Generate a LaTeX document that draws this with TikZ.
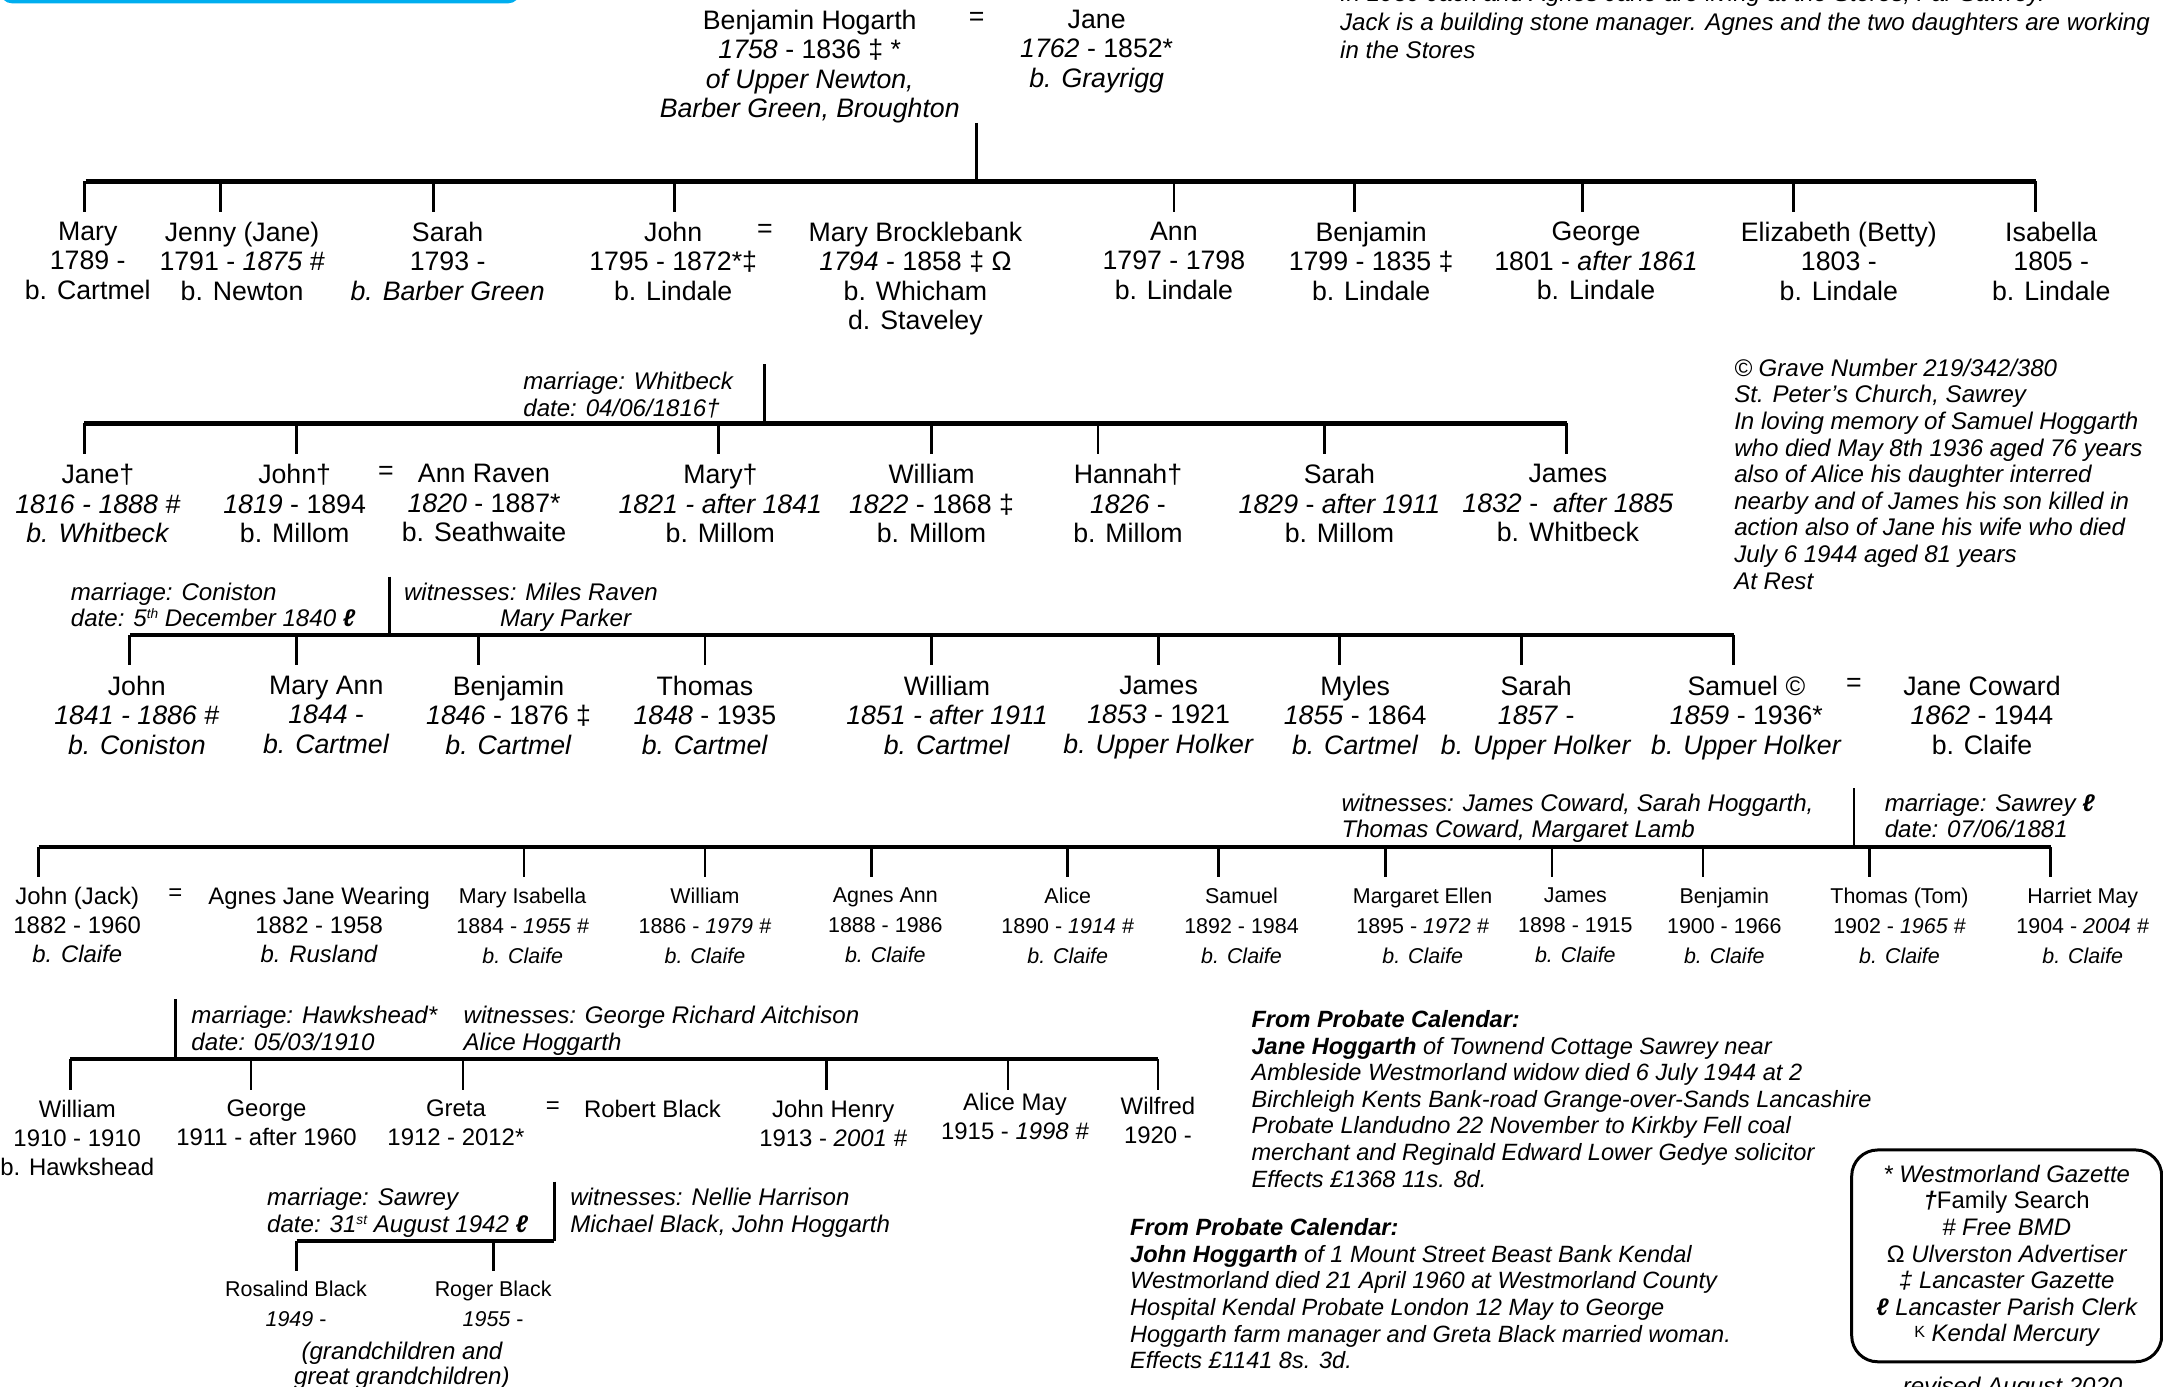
\documentclass[tikz,border=0pt]{standalone}
\usepackage{fontspec}
\setmainfont{Liberation Sans}
\usepackage{tikz}
\usetikzlibrary{calc}
\definecolor{skyblue}{HTML}{00AEEF}
\newcommand{\ordsup}[1]{\raisebox{2.3pt}{\fontsize{3.9}{4}\selectfont #1}}

\begin{document}
\begin{tikzpicture}[x=0.013795cm, y=-0.013795cm,
    bar/.style={line width=1.25pt},
    drop/.style={line width=0.8pt},
    big/.style={anchor=north, inner sep=0pt, align=center, font=\fontsize{7.6}{8.36}\selectfont},
    mid/.style={big, font=\fontsize{6.8}{8.24}\selectfont},
    small/.style={big, font=\fontsize{6.1}{8.5}\selectfont},
    note/.style={anchor=north west, inner sep=0pt, align=left, font=\fontsize{6.85}{7.58}\selectfont\itshape},
    wed/.style={inner sep=0pt, font=\fontsize{7.6}{8.36}\selectfont},
    wedmid/.style={inner sep=0pt, font=\fontsize{6.8}{8.24}\selectfont}]
    \useasboundingbox (0,0) rectangle (1568,1005);

    \draw[skyblue, line width=0.95pt, rounded corners=3pt] (1.2,-30) rectangle (376,1.2);
    \node[note, font=\fontsize{6.85}{8.2}\selectfont\itshape] (census) at (971,-12.3) {In 1939 Jack and Agnes Jane are living at the Stores, Far Sawrey.\\Jack is a building stone manager. Agnes and the two daughters are working\\in the Stores};

    \node[big] (ben) at (587,6.8) {Benjamin Hogarth\\\textit{1758} - 1836 ‡ *\\\textit{of Upper Newton,}\\\textit{Barber Green, Broughton}};
    \node[wed] (eq0) at (708,13.8) {=};
    \node[big] (jane0) at (795,6.8) {Jane\\\textit{1762} - 1852*\\\textit{b. Grayrigg}};
    \coordinate (p0) at (708,89);
    \coordinate (bar1w) at (62,131.5);
    \coordinate (bar1e) at (1476,131.5);
    \draw[drop] (p0) -- (p0 |- bar1w);
    \draw[bar] (bar1w) -- (bar1e);

    \node[big] (mary1) at (63.6,160.5) {Mary\\1789 -\\b. Cartmel};
    \node[big] (jenny) at (175.5,160.5) {Jenny (Jane)\\1791 - \textit{1875 \#}\\b. Newton};
    \node[big] (sarah1) at (324.5,160.5) {Sarah\\1793 -\\\textit{b. Barber Green}};
    \node[big] (john1) at (488,160.5) {John\\1795 - 1872*‡\\b. Lindale};
    \node[wed] (eq1) at (554.5,167.5) {=};
    \node[big] (brock) at (663.6,160.5) {Mary Brocklebank\\\textit{1794} - 1858 ‡ Ω\\b. Whicham\\d. Staveley};
    \node[big] (ann1) at (851,160.5) {Ann\\1797 - 1798\\b. Lindale};
    \node[big] (benj1) at (994,160.5) {Benjamin\\1799 - 1835 ‡\\b. Lindale};
    \node[big] (george1) at (1157,160.5) {George\\1801 - \textit{after 1861}\\b. Lindale};
    \node[big] (betty) at (1333,160.5) {Elizabeth (Betty)\\1803 -\\b. Lindale};
    \node[big] (isabella) at (1487,160.5) {Isabella\\1805 -\\b. Lindale};
    \draw[drop] ($(mary1.north |- bar1w)+(-2.6,0)$) -- ++(0,22);
    \draw[drop] ($(jenny.north |- bar1w)+(-15.5,0)$) -- ++(0,22);
    \draw[drop] ($(sarah1.north |- bar1w)+(-10.5,0)$) -- ++(0,22);
    \draw[drop] ($(john1.north |- bar1w)+(1,0)$) -- ++(0,22);
    \draw[drop] (ann1.north |- bar1w) -- ++(0,22);
    \draw[drop] ($(benj1.north |- bar1w)+(-12,0)$) -- ++(0,22);
    \draw[drop] ($(george1.north |- bar1w)+(-10,0)$) -- ++(0,22);
    \draw[drop] ($(betty.north |- bar1w)+(-33,0)$) -- ++(0,22);
    \draw[drop] ($(isabella.north |- bar1w)+(-11.5,0)$) -- ++(0,22);

    \node[note] (wed1) at (378.9,269.2) {marriage: Whitbeck\\date: 04/06/1816†};
    \coordinate (p1) at (554.3,264);
    \coordinate (bar2w) at (61,307);
    \coordinate (bar2e) at (1136,307);
    \draw[drop] (p1) -- (p1 |- bar2w);
    \draw[bar] (bar2w) -- (bar2e);

    \node[big] (jane2) at (71,336.1) {Jane†\\\textit{1816 - 1888 \#}\\\textit{b. Whitbeck}};
    \node[big] (john2) at (213.6,336.1) {John†\\\textit{1819} - 1894\\b. Millom};
    \node[wed] (eq2) at (279.7,343.1) {=};
    \node[big] (raven) at (350.9,336.1) {Ann Raven\\\textit{1820} - 1887*\\b. Seathwaite};
    \node[big] (mary2) at (522.2,336.1) {Mary†\\\textit{1821 - after 1841}\\b. Millom};
    \node[big] (william2) at (675.3,336.1) {William\\\textit{1822} - 1868 ‡\\b. Millom};
    \node[big] (hannah) at (817.7,336.1) {Hannah†\\\textit{1826} -\\b. Millom};
    \node[big] (sarah2) at (971,336.1) {Sarah\\\textit{1829} - \textit{after 1911}\\b. Millom};
    \node[big] (james2) at (1136.6,336.1) {James\\\textit{1832} -~ \textit{after 1885}\\b. Whitbeck};
    \draw[drop] ($(jane2.north |- bar2w)+(-10,0)$) -- ++(0,22.4);
    \draw[drop] ($(john2.north |- bar2w)+(1.4,0)$) -- ++(0,22.4);
    \draw[drop] ($(mary2.north |- bar2w)+(-1.2,0)$) -- ++(0,22.4);
    \draw[drop] (william2.north |- bar2w) -- ++(0,22.4);
    \draw[drop] ($(hannah.north |- bar2w)+(-21.7,0)$) -- ++(0,22.4);
    \draw[drop] ($(sarah2.north |- bar2w)+(-10.7,0)$) -- ++(0,22.4);
    \draw[drop] ($(james2.north |- bar2w)+(-0.8,0)$) -- ++(0,22.4);

    \node[note] (grave) at (1256.7,259.5) {© Grave Number 219/342/380\\St. Peter’s Church, Sawrey\\In loving memory of Samuel Hoggarth\\who died May 8th 1936 aged 76 years\\also of Alice his daughter interred\\nearby and of James his son killed in\\action also of Jane his wife who died\\July 6 1944 aged 81 years\\At Rest};

    \node[note] (wed2) at (50.9,421.9) {marriage: Coniston\\date: 5\ordsup{th} December 1840 \textbf{ℓ}};
    \node[note] (wit1) at (292.4,421.9) {witnesses: Miles Raven\\\hspace*{27.3pt}Mary Parker};
    \coordinate (p2) at (282.2,418);
    \coordinate (bar3w) at (94.1,460.3);
    \coordinate (bar3e) at (1256.7,460.3);
    \draw[drop] (p2) -- (p2 |- bar3w);
    \draw[bar] (bar3w) -- (bar3e);

    \node[big] (john3) at (99.2,489.5) {John\\\textit{1841 - 1886 \#}\\\textit{b. Coniston}};
    \node[big] (maryann) at (236.5,489.5) {Mary Ann\\\textit{1844} -\\\textit{b. Cartmel}};
    \node[big] (benj3) at (368.7,489.5) {Benjamin\\\textit{1846} - 1876 ‡\\\textit{b. Cartmel}};
    \node[big] (thomas3) at (511,489.5) {Thomas\\\textit{1848} - 1935\\\textit{b. Cartmel}};
    \node[big] (william3) at (686.5,489.5) {William\\\textit{1851 - after 1911}\\\textit{b. Cartmel}};
    \node[big] (james3) at (839.9,489.5) {James\\\textit{1853} - 1921\\\textit{b. Upper Holker}};
    \node[big] (myles) at (982.4,489.5) {Myles\\\textit{1855} - 1864\\\textit{b. Cartmel}};
    \node[big] (sarah3) at (1113.6,489.5) {Sarah\\\textit{1857} -\\\textit{b. Upper Holker}};
    \node[big] (samuel3) at (1266,489.5) {Samuel ©\\\textit{1859} - 1936*\\\textit{b. Upper Holker}};
    \node[wed] (eq3) at (1344,496.5) {=};
    \node[big] (coward) at (1436.8,489.5) {Jane Coward\\\textit{1862} - 1944\\b. Claife};
    \draw[drop] ($(john3.north |- bar3w)+(-5.1,0)$) -- ++(0,21.7);
    \draw[drop] ($(maryann.north |- bar3w)+(-21.4,0)$) -- ++(0,21.7);
    \draw[drop] ($(benj3.north |- bar3w)+(-21.9,0)$) -- ++(0,21.7);
    \draw[drop] (thomas3.north |- bar3w) -- ++(0,21.7);
    \draw[drop] ($(william3.north |- bar3w)+(-11.2,0)$) -- ++(0,21.7);
    \draw[drop] (james3.north |- bar3w) -- ++(0,21.7);
    \draw[drop] ($(myles.north |- bar3w)+(-11.3,0)$) -- ++(0,21.7);
    \draw[drop] ($(sarah3.north |- bar3w)+(-10.8,0)$) -- ++(0,21.7);
    \draw[drop] ($(samuel3.north |- bar3w)+(-9.3,0)$) -- ++(0,21.7);

    \node[note] (wit2) at (972,574.8) {witnesses: James Coward, Sarah Hoggarth,\\Thomas Coward, Margaret Lamb};
    \node[note] (wed3) at (1365.8,574.8) {marriage: Sawrey \textbf{ℓ}\\date: 07/06/1881};
    \coordinate (p3) at (1344,571.5);
    \coordinate (bar4w) at (28,614.2);
    \coordinate (bar4e) at (1486.7,614.2);
    \draw[drop] (p3) -- (p3 |- bar4w);
    \draw[bar] (bar4w) -- (bar4e);

    \node[mid] (jack) at (56,642.6) {John (Jack)\\1882 - 1960\\\textit{b. Claife}};
    \node[wedmid] (eq4) at (127.1,648.8) {=};
    \node[mid] (agnes) at (231.4,642.6) {Agnes Jane Wearing\\1882 - 1958\\\textit{b. Rusland}};
    \node[small] (maryis) at (378.9,643.2) {Mary Isabella\\1884 - \textit{1955 \#}\\\textit{b. Claife}};
    \node[small] (william5) at (511,643.2) {William\\1886 - \textit{1979 \#}\\\textit{b. Claife}};
    \node[small] (agnesann) at (641.8,643.2) {Agnes Ann\\1888 - 1986\\\textit{b. Claife}};
    \node[small] (alice5) at (774,643.2) {Alice\\1890 - \textit{1914 \#}\\\textit{b. Claife}};
    \node[small] (samuel5) at (900,643.2) {Samuel\\1892 - 1984\\\textit{b. Claife}};
    \node[small] (margaret) at (1031.3,643.2) {Margaret Ellen\\1895 - \textit{1972 \#}\\\textit{b. Claife}};
    \node[small] (james5) at (1142,643.2) {James\\1898 - 1915\\\textit{b. Claife}};
    \node[small] (benj5) at (1250,643.2) {Benjamin\\1900 - 1966\\\textit{b. Claife}};
    \node[small] (tom) at (1377,643.2) {Thomas (Tom)\\1902 - \textit{1965 \#}\\\textit{b. Claife}};
    \node[small] (harriet) at (1509.8,643.2) {Harriet May\\1904 - \textit{2004 \#}\\\textit{b. Claife}};
    \draw[drop] ($(jack.north |- bar4w)+(-28,0)$) -- ++(0,21.8);
    \draw[drop] ($(maryis.north |- bar4w)+(1,0)$) -- ++(0,21.8);
    \draw[drop] (william5.north |- bar4w) -- ++(0,21.8);
    \draw[drop] ($(agnesann.north |- bar4w)+(-10.2,0)$) -- ++(0,21.8);
    \draw[drop] (alice5.north |- bar4w) -- ++(0,21.8);
    \draw[drop] ($(samuel5.north |- bar4w)+(-16.4,0)$) -- ++(0,21.8);
    \draw[drop] ($(margaret.north |- bar4w)+(-26.8,0)$) -- ++(0,21.8);
    \draw[drop] ($(james5.north |- bar4w)+(-17,0)$) -- ++(0,21.8);
    \draw[drop] ($(benj5.north |- bar4w)+(-15.5,0)$) -- ++(0,21.8);
    \draw[drop] ($(tom.north |- bar4w)+(-21.5,0)$) -- ++(0,21.8);
    \draw[drop] ($(harriet.north |- bar4w)+(-23.1,0)$) -- ++(0,21.8);

    \node[note] (wed4) at (138.3,729) {marriage: Hawkshead*\\date: 05/03/1910};
    \node[note] (wit3) at (335.6,729) {witnesses: George Richard Aitchison\\Alice Hoggarth};
    \coordinate (p4) at (127.1,724.4);
    \coordinate (bar6w) at (50.9,767.9);
    \coordinate (bar6e) at (839.4,767.9);
    \draw[drop] (p4) -- (p4 |- bar6w);
    \draw[bar] (bar6w) -- (bar6e);

    \node[mid] (william6) at (56,796.8) {William\\1910 - 1910\\b. Hawkshead};
    \node[mid] (george6) at (193.2,796.8) {George\\1911 - after 1960};
    \node[mid] (greta) at (330.5,796.8) {Greta\\1912 - 2012*};
    \node[wedmid] (eq6) at (400.7,803) {=};
    \node[mid] (robert) at (473,796.8) {Robert Black};
    \node[mid] (johnhenry) at (604,796.8) {John Henry\\1913 - \textit{2001 \#}};
    \node[mid] (alicemay) at (735.8,792.3) {Alice May\\1915 - \textit{1998 \#}};
    \node[mid] (wilfred) at (839.4,794.8) {Wilfred\\1920 -};
    \draw[drop] ($(william6.north |- bar6w)+(-5.1,0)$) -- ++(0,22.1);
    \draw[drop] ($(george6.north |- bar6w)+(-11.2,0)$) -- ++(0,22.1);
    \draw[drop] ($(greta.north |- bar6w)+(5.1,0)$) -- ++(0,22.1);
    \draw[drop] ($(johnhenry.north |- bar6w)+(-5,0)$) -- ++(0,22.1);
    \draw[drop] ($(alicemay.north |- bar6w)+(-5.1,0)$) -- ++(0,22.1);
    \draw[drop] (wilfred.north |- bar6w) -- ++(0,22.1);

    \node[note] (wed5) at (193.2,860.7) {marriage: Sawrey\\date: 31\ordsup{st} August 1942 \textbf{ℓ}};
    \node[note] (wit4) at (412.9,860.7) {witnesses: Nellie Harrison\\Michael Black, John Hoggarth};
    \coordinate (p5) at (401.7,856.6);
    \coordinate (bar7w) at (215.1,899.4);
    \coordinate (bar7e) at (401.7,899.4);
    \draw[drop] (p5) -- (p5 |- bar7w);
    \draw[bar] (bar7w) -- (bar7e);

    \node[small] (rosalind) at (214.6,928.3) {Rosalind Black\\\textit{1949} -};
    \node[small] (roger) at (357.5,928.3) {Roger Black\\\textit{1955} -};
    \draw[drop] ($(rosalind.north |- bar7w)+(0.5,0)$) -- ++(0,21.7);
    \draw[drop] (roger.north |- bar7w) -- ++(0,21.7);
    \node[note, anchor=north, align=center, font=\fontsize{6.85}{7.1}\selectfont\itshape] (grand) at (291.4,972.3) {(grandchildren and\\great grandchildren)};

    \node[note, font=\fontsize{6.7}{7.58}\selectfont\itshape] (probate1) at (906.8,731.9) {\textbf{From Probate Calendar:}\\\textbf{Jane Hoggarth} of Townend Cottage Sawrey near\\Ambleside Westmorland widow died 6 July 1944 at 2\\Birchleigh Kents Bank-road Grange-over-Sands Lancashire\\Probate Llandudno 22 November to Kirkby Fell coal\\merchant and Reginald Edward Lower Gedye solicitor\\Effects £1368 11s. 8d.};
    \node[note, font=\fontsize{6.7}{7.58}\selectfont\itshape] (probate2) at (818.8,882.9) {\textbf{From Probate Calendar:}\\\textbf{John Hoggarth} of 1 Mount Street Beast Bank Kendal\\Westmorland died 21 April 1960 at Westmorland County\\Hospital Kendal Probate London 12 May to George\\Hoggarth farm manager and Greta Black married woman.\\Effects £1141 8s. 3d.};

    \node[draw, line width=0.85pt, rounded corners=0.26cm, inner sep=0pt, align=center, minimum width=3.1cm, minimum height=2.118cm, font=\fontsize{6.8}{7.58}\selectfont\itshape] (key) at (1454.7,910.4) {* Westmorland Gazette\\\textbf{†}\textup{Family Search}\\\# Free BMD\\\textup{Ω} Ulverston Advertiser\\‡ Lancaster Gazette\\\textbf{ℓ} Lancaster Parish Clerk\\\raisebox{1.2pt}{\fontsize{4.6}{5}\selectfont\upshape K} Kendal Mercury};
    \node[anchor=base, inner sep=0pt, font=\fontsize{6.85}{7.6}\selectfont\itshape] (revised) at (1459,1010.6) {revised August 2020};
\end{tikzpicture}
\end{document}
